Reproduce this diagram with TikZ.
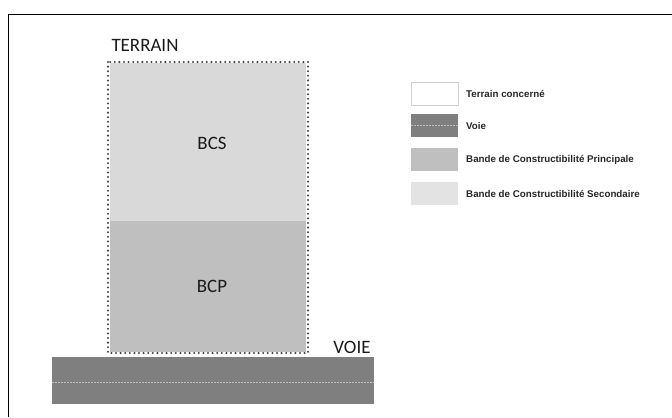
\documentclass[tikz,border=0pt]{standalone}
\usepackage{fontspec}
\setmainfont{Carlito}
\newfontfamily\legfont{Liberation Sans}
\definecolor{bcsfill}{HTML}{D9D9D9}
\definecolor{bcpfill}{HTML}{BFBFBF}
\definecolor{roadfill}{HTML}{7F7F7F}
\definecolor{legsec}{HTML}{E3E3E3}
\definecolor{dotcol}{HTML}{444444}
\begin{document}
\begin{tikzpicture}[x=1bp,y=-1bp,
  bigtxt/.style={font=\fontsize{19}{19}\selectfont, text=black!90, inner sep=0pt},
  legtxt/.style={font=\legfont\bfseries\fontsize{9.8}{9.8}\selectfont, text=black!85, anchor=west, inner sep=0pt},
  swatch/.style={minimum width=47bp, minimum height=23bp, inner sep=0pt, anchor=north west},
  roadline/.style={draw=white!75!black, line width=0.8bp, dash pattern=on 1.5bp off 1.5bp}]
\useasboundingbox (0,0) rectangle (672,417);
% frame
\draw[line width=1.1bp] (8.5,417) -- (8.5,14.7) -- (672,14.7);
% terrain
\fill[bcsfill] (110,63) rectangle (306,221);
\fill[bcpfill] (110,221) rectangle (306,352);
\draw[dotcol, line width=2.3bp, line cap=round, dash pattern=on 0bp off 4.6bp] (108,62) rectangle (308,353);
% road
\fill[roadfill] (52,357) rectangle (374,404);
\draw[roadline] (52,382) -- (374,382);
% labels
\node[bigtxt] (terrain) at (145,45) {TERRAIN};
\node[bigtxt] (bcs) at (212,143) {BCS};
\node[bigtxt] (bcp) at (212,286) {BCP};
\node[bigtxt] (voie) at (352,347) {VOIE};
% legend
\node[swatch, fill=white, draw=black!18, line width=1bp] (l1) at (411,82) {};
\node[swatch, fill=roadfill] (l2) at (411,114) {};
\draw[roadline] (l2.west) -- (l2.east);
\node[swatch, fill=bcpfill] (l3) at (411,148) {};
\node[swatch, fill=legsec] (l4) at (411,182) {};
\node[legtxt] (t1) at (466,94) {Terrain concerné};
\node[legtxt] (t2) at (466,126) {Voie};
\node[legtxt] (t3) at (466,160) {Bande de Constructibilité Principale};
\node[legtxt] (t4) at (466,194) {Bande de Constructibilité Secondaire};
\end{tikzpicture}
\end{document}
